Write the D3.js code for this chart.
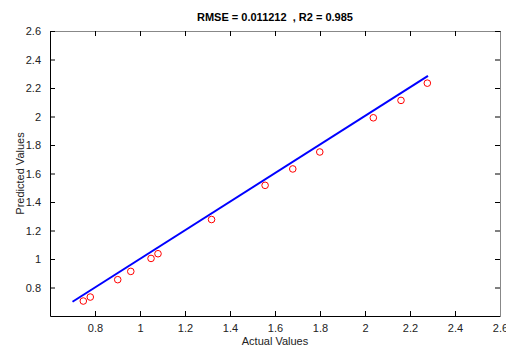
<!DOCTYPE html>
<html>
<head>
<meta charset="utf-8">
<script src="https://cdn.jsdelivr.net/npm/d3@7"></script>
<style>
  body { margin: 0; background: #fff; }
  text { font-family: Arial, "Liberation Sans", sans-serif; }
</style>
</head>
<body>
<div id="vis-container"></div>
<script>
// Chart data
const actual    = [0.748, 0.779, 0.901, 0.959, 1.049, 1.080, 1.318, 1.556, 1.679, 1.799, 2.037, 2.160, 2.277];
const predicted = [0.705, 0.733, 0.855, 0.913, 1.004, 1.037, 1.277, 1.517, 1.632, 1.751, 1.991, 2.113, 2.234];
// fitted line end points
const fitX = [0.70, 2.28];
const fitY = [0.70, 2.285];
const ticks = [0.8, 1, 1.2, 1.4, 1.6, 1.8, 2, 2.2, 2.4, 2.6];
const yTicks = [0.8, 1, 1.2, 1.4, 1.6, 1.8, 2, 2.2, 2.4, 2.6];

const width = 506;
const height = 348;
const margin = { top: 31, right: 6, bottom: 32, left: 50 };

const svg = d3.select("#vis-container")
              .append("svg")
              .attr("width", width)
              .attr("height", height);

const x = d3.scaleLinear()
            .domain([0.6, 2.6])
            .range([margin.left, width - margin.right]);

const y = d3.scaleLinear()
            .domain([0.6, 2.6])
            .range([height - margin.bottom, margin.top]);

const fmt = d => d3.format("~g")(d);

// bottom axis, ticks pointing in
svg.append("g")
   .attr("transform", `translate(0,${height - margin.bottom})`)
   .call(d3.axisBottom(x).tickValues(ticks).tickSizeInner(-5).tickSizeOuter(0).tickPadding(8).tickFormat(fmt))
   .call(g => g.selectAll("text").attr("font-size", "11px").attr("fill", "#222"));

// top axis (mirror, no labels)
svg.append("g")
   .attr("transform", `translate(0,${margin.top})`)
   .call(d3.axisTop(x).tickValues(ticks).tickSizeInner(-5).tickSizeOuter(0).tickFormat(""))
   .call(g => g.select(".domain").attr("stroke", "#888"));

// left axis
svg.append("g")
   .attr("transform", `translate(${margin.left},0)`)
   .call(d3.axisLeft(y).tickValues(yTicks).tickSizeInner(-5).tickSizeOuter(0).tickPadding(9).tickFormat(fmt))
   .call(g => g.selectAll("text").attr("font-size", "11px").attr("fill", "#222"));

// right axis (mirror, no labels)
svg.append("g")
   .attr("transform", `translate(${width - margin.right},0)`)
   .call(d3.axisRight(y).tickValues(yTicks).tickSizeInner(-5).tickSizeOuter(0).tickFormat(""))
   .call(g => g.select(".domain").attr("stroke", "#888"));

// fitted line
svg.append("line")
   .attr("x1", x(fitX[0])).attr("y1", y(fitY[0]))
   .attr("x2", x(fitX[1])).attr("y2", y(fitY[1]))
   .attr("stroke", "#0000ff")
   .attr("stroke-width", 2);

// points
svg.selectAll(".pt")
   .data(actual)
   .enter()
     .append("circle")
     .attr("class", "pt")
     .attr("cx", d => x(d))
     .attr("cy", (d, i) => y(predicted[i]))
     .attr("r", 3.3)
     .attr("fill", "none")
     .attr("stroke", "#ff0000")
     .attr("stroke-width", 1);

// title and labels
svg.append("text")
   .attr("x", (margin.left + width - margin.right) / 2)
   .attr("y", 21)
   .attr("text-anchor", "middle")
   .attr("font-size", "11px")
   .attr("font-weight", "bold")
   .style("white-space", "pre")
   .text("RMSE = 0.011212  , R2 = 0.985");

svg.append("text")
   .attr("x", (margin.left + width - margin.right) / 2)
   .attr("y", 345)
   .attr("text-anchor", "middle")
   .attr("font-size", "11px")
   .attr("fill", "#222")
   .text("Actual Values");

svg.append("text")
   .attr("transform", `translate(24,${(margin.top + height - margin.bottom) / 2}) rotate(-90)`)
   .attr("text-anchor", "middle")
   .attr("font-size", "11px")
   .attr("fill", "#222")
   .text("Predicted Values");
</script>
</body>
</html>
